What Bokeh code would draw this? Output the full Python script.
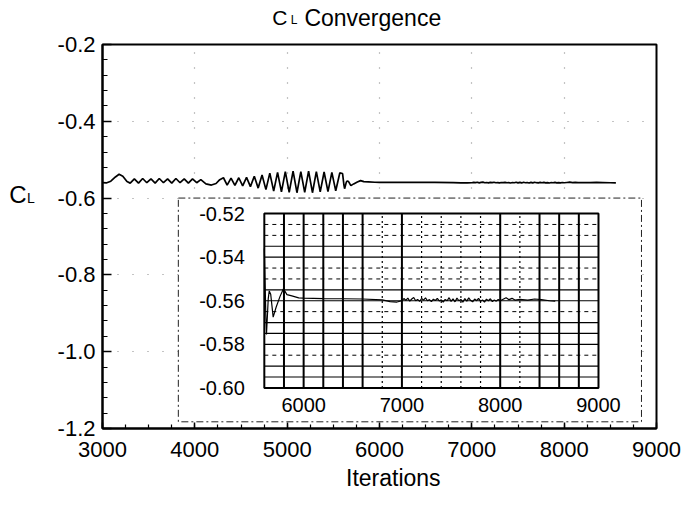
import numpy as np
from bokeh.plotting import figure
from bokeh.layouts import column, row
from bokeh.models import Range1d, FixedTicker, PrintfTickFormatter
from bokeh.core.properties import value
from bokeh.embed import file_html
from bokeh.resources import INLINE

# ---------------- data ----------------
iterations = [
    3000, 3040, 3090, 3140, 3180, 3220, 3265, 3300, 3345, 3390,
    3435, 3480, 3525, 3570, 3615, 3660, 3705, 3750, 3795, 3840,
    3885, 3930, 3975, 4020, 4065, 4120, 4180, 4230, 4270, 4310,
    4350, 4392, 4434, 4476, 4518, 4560, 4602, 4644, 4686, 4728,
    4770, 4812, 4854, 4896, 4938, 4980, 5022, 5064, 5106, 5148,
    5190, 5232, 5274, 5316, 5358, 5400, 5442, 5484, 5526, 5570,
    5600, 5615, 5622, 5640, 5650, 5665, 5690, 5720, 5760, 5795,
    5830, 5880, 5950, 6000, 6200, 6400, 6600, 6800, 6880, 6950,
    7000, 7020, 7040, 7060, 7080, 7100, 7120, 7140, 7160, 7180,
    7200, 7220, 7240, 7260, 7280, 7300, 7320, 7340, 7360, 7380,
    7400, 7420, 7440, 7460, 7480, 7500, 7520, 7540, 7560, 7580,
    7600, 7620, 7640, 7660, 7680, 7700, 7720, 7740, 7760, 7780,
    7800, 7820, 7840, 7860, 7880, 7900, 7920, 7940, 7960, 7980,
    8000, 8030, 8060, 8090, 8120, 8150, 8200, 8280, 8350, 8420,
    8500, 8560,
]
cl = [
    -0.5595, -0.5605, -0.5560, -0.5450, -0.5380, -0.5430, -0.5570, -0.5610, -0.5500, -0.5610,
    -0.5490, -0.5600, -0.5500, -0.5610, -0.5490, -0.5600, -0.5500, -0.5610, -0.5490, -0.5600,
    -0.5500, -0.5610, -0.5500, -0.5600, -0.5520, -0.5630, -0.5660, -0.5620, -0.5520, -0.5470,
    -0.5660, -0.5480, -0.5670, -0.5470, -0.5680, -0.5460, -0.5700, -0.5430, -0.5740, -0.5400,
    -0.5780, -0.5350, -0.5820, -0.5330, -0.5840, -0.5310, -0.5850, -0.5300, -0.5860, -0.5310,
    -0.5850, -0.5300, -0.5860, -0.5310, -0.5840, -0.5320, -0.5830, -0.5330, -0.5810, -0.5345,
    -0.5360, -0.5660, -0.5755, -0.5590, -0.5555, -0.5570, -0.5675, -0.5630, -0.5580, -0.5545,
    -0.5572, -0.5578, -0.5587, -0.5588, -0.5590, -0.5591, -0.5592, -0.5596, -0.5604, -0.5606,
    -0.5600, -0.5590, -0.5598, -0.5588, -0.5602, -0.5592, -0.5585, -0.5600, -0.5594, -0.5603,
    -0.5590, -0.5597, -0.5587, -0.5600, -0.5595, -0.5604, -0.5593, -0.5599, -0.5589, -0.5601,
    -0.5596, -0.5606, -0.5594, -0.5600, -0.5586, -0.5603, -0.5591, -0.5605, -0.5588, -0.5600,
    -0.5594, -0.5607, -0.5590, -0.5602, -0.5587, -0.5599, -0.5605, -0.5592, -0.5600, -0.5589,
    -0.5603, -0.5596, -0.5606, -0.5593, -0.5600, -0.5591, -0.5604, -0.5597, -0.5602, -0.5594,
    -0.5600, -0.5593, -0.5586, -0.5595, -0.5589, -0.5597, -0.5594, -0.5597, -0.5592, -0.5595,
    -0.5600, -0.5602,
]

x_ticks = [3000, 4000, 5000, 6000, 7000, 8000, 9000]
y_ticks = [-1.2, -1.0, -0.8, -0.6, -0.4, -0.2]

inset_x_range = (5600, 9000)
inset_y_range = (-0.60, -0.52)
inset_x_ticks = [6000, 7000, 8000, 9000]
inset_y_ticks = [-0.60, -0.58, -0.56, -0.54, -0.52]
inset_vgrid_solid = [5800, 6000, 6200, 6400, 6600, 7000, 8000, 8400, 8600, 8800]
inset_vgrid_dashed = [6800, 7200, 7400, 7600, 7800, 8200]
inset_hgrid_solid = [-0.535, -0.54, -0.555, -0.56, -0.57, -0.575, -0.58, -0.59, -0.595]
inset_hgrid_dashed = [-0.525, -0.53, -0.545, -0.55, -0.565, -0.585]

title_parts = ["C", "L", "Convergence"]
ylabel_parts = ["C", "L"]
xlabel = "Iterations"

# ---------------- layout constants ----------------
FONT = "Liberation Sans"
W, H = 683, 492
SX, SY = W / 699.0, H / 508.0          # reference px -> page px


def fx(rx):
    return rx * SX


def fy(ry):
    return ry * SY


X0, X1 = 3000, 9000
Y0, Y1 = -1.2, -0.2

HT = 31          # title strip height
WL = 44          # y-label strip width
HB = 30          # x-label strip height
HM = H - HT - HB  # main figure height
WM = W - WL       # main figure width
EXTRA = 10        # text strips are drawn this much taller than declared

FL = round(fx(104))          # frame left (page px)
FR = round(fx(671))
FT = 44
FB = round(fy(442))
BL = FL - WL
BR = W - FR
BT = FT - HT
BB = (HT + HM) - FB
FW = FR - FL
FH = FB - FT


def frx(rx):   # reference px -> px from main frame left
    return fx(rx) - FL


def fry(ry):   # reference px -> px from main frame top
    return fy(ry) - FT


# inset frame / panel in frame px
IL, IR, IT, IB = frx(270), frx(612), fry(220), fry(400)
PL, PR, PT, PB = frx(182), frx(656), fry(204), fry(435)

ixpp = (inset_x_range[1] - inset_x_range[0]) / (IR - IL)
iypp = (inset_y_range[1] - inset_y_range[0]) / (IB - IT)
ix_start = inset_x_range[0] - IL * ixpp
ix_end = inset_x_range[1] + (FW - IR) * ixpp
iy_end = inset_y_range[1] + IT * iypp
iy_start = inset_y_range[0] - (FH - IB) * iypp


def ipx(px):
    return ix_start + px * ixpp


def ipy(py):
    return iy_end - py * iypp


# ---------------- main figure ----------------
fig = figure(width=WM, height=HM, output_backend="svg", toolbar_location=None,
             x_range=Range1d(X0, X1), y_range=Range1d(Y0, Y1),
             min_border_left=BL, min_border_right=BR, min_border_top=BT,
             min_border_bottom=BB, title=None)
fig.extra_x_ranges = {"ix": Range1d(ix_start, ix_end)}
fig.extra_y_ranges = {"iy": Range1d(iy_start, iy_end)}

fig.background_fill_color = "white"
fig.border_fill_color = "white"
fig.outline_line_color = "black"
fig.outline_line_width = 2

fig.xaxis.ticker = FixedTicker(ticks=x_ticks, minor_ticks=list(np.arange(3000, 9001, 250)))
fig.yaxis.ticker = FixedTicker(ticks=y_ticks, minor_ticks=list(np.round(np.arange(-1.2, -0.19, 0.04), 2)))
fig.xaxis.formatter = PrintfTickFormatter(format="%d")
fig.yaxis.formatter = PrintfTickFormatter(format="%.1f")
for ax in (fig.xaxis, fig.yaxis):
    ax.axis_line_width = 2
    ax.axis_line_color = "black"
    ax.major_tick_out = 0
    ax.minor_tick_out = 0
    ax.major_tick_line_width = 1.5
    ax.minor_tick_line_width = 1.2
    ax.major_label_text_font = FONT
    ax.major_label_text_font_size = "22px"
    ax.major_label_text_color = "black"
fig.xaxis.major_tick_in = 6
fig.xaxis.minor_tick_in = 4
fig.yaxis.major_tick_in = 9
fig.yaxis.minor_tick_in = 5
fig.xaxis.major_label_standoff = 13
fig.yaxis.major_label_standoff = 7

fig.xgrid.ticker = FixedTicker(ticks=x_ticks)
fig.ygrid.ticker = FixedTicker(ticks=y_ticks)
for g in (fig.xgrid, fig.ygrid):
    g.grid_line_color = "#888888"
    g.grid_line_dash = "1 14"
    g.grid_line_width = 1.2

fig.line(iterations, cl, line_color="black", line_width=1.7)

# inset panel
fig.quad(left=[ipx(PL)], right=[ipx(PR)], top=[ipy(PT)], bottom=[ipy(PB)],
         x_range_name="ix", y_range_name="iy", fill_color="white",
         line_color="#222222", line_width=1, line_dash="7 3 2 3")

i0, i1 = inset_x_range
j0, j1 = inset_y_range
fig.segment(x0=[i0] * len(inset_hgrid_dashed), x1=[i1] * len(inset_hgrid_dashed),
            y0=inset_hgrid_dashed, y1=inset_hgrid_dashed,
            x_range_name="ix", y_range_name="iy", line_color="black",
            line_width=1, line_dash="4 4")
fig.segment(x0=[i0] * len(inset_hgrid_solid), x1=[i1] * len(inset_hgrid_solid),
            y0=inset_hgrid_solid, y1=inset_hgrid_solid,
            x_range_name="ix", y_range_name="iy", line_color="black", line_width=1.2)
fig.segment(x0=inset_vgrid_dashed, x1=inset_vgrid_dashed,
            y0=[j0] * len(inset_vgrid_dashed), y1=[j1] * len(inset_vgrid_dashed),
            x_range_name="ix", y_range_name="iy", line_color="black",
            line_width=1.2, line_dash="2 3")
fig.segment(x0=inset_vgrid_solid, x1=inset_vgrid_solid,
            y0=[j0] * len(inset_vgrid_solid), y1=[j1] * len(inset_vgrid_solid),
            x_range_name="ix", y_range_name="iy", line_color="black", line_width=2)
fig.quad(left=[i0], right=[i1], bottom=[j0], top=[j1], x_range_name="ix",
         y_range_name="iy", fill_color=None, line_color="black", line_width=2)

ins_x = [x for x in iterations if i0 <= x <= i1]
ins_y = [c for x, c in zip(iterations, cl) if i0 <= x <= i1]
fig.line(ins_x, ins_y, x_range_name="ix", y_range_name="iy",
         line_color="black", line_width=1.2)

fig.text(x=[ipx(frx(250))] * len(inset_y_ticks), y=inset_y_ticks,
         text=["%.2f" % v for v in inset_y_ticks], x_range_name="ix", y_range_name="iy",
         text_font=value(FONT), text_font_size=value("20px"), text_align="right",
         text_baseline="middle", text_color="black")
fig.text(x=inset_x_ticks, y=[ipy(fry(418))] * len(inset_x_ticks),
         text=["%d" % v for v in inset_x_ticks], x_range_name="ix", y_range_name="iy",
         text_font=value(FONT), text_font_size=value("20px"), text_align="center",
         text_baseline="middle", text_color="black")


# ---------------- text strips ----------------
def strip(w, h, y_top):
    s = figure(width=w, height=h, output_backend="svg", toolbar_location=None,
               x_range=Range1d(0, w), y_range=Range1d(y_top + h + EXTRA, y_top),
               x_axis_type=None, y_axis_type=None, min_border=0, title=None)
    s.outline_line_color = None
    s.background_fill_color = "white"
    s.border_fill_color = "white"
    return s


def txt(s, t, x, y, size, align="left"):
    s.text(x=[x], y=[y], text=[t], text_font=value(FONT),
           text_font_size=value(size), text_align=align,
           text_baseline="alphabetic", text_color="black")


top = strip(W, HT, 0)
txt(top, title_parts[0], fx(278), 22.5, "21px")
txt(top, title_parts[1], fx(297), 25.5, "12px")
txt(top, title_parts[2], fx(311), 22.5, "23px")

left = strip(WL, HM, HT)
txt(left, ylabel_parts[0], fx(9), fy(210), "24px")
txt(left, ylabel_parts[1], fx(27), fy(214), "14px")

bottom = strip(W, HB, HT + HM)
txt(bottom, xlabel, fx(402), fy(499), "23px", "center")

p = column(top, row(left, fig, spacing=0), bottom, spacing=0)

open("out.html", "w").write(file_html(p, INLINE))
